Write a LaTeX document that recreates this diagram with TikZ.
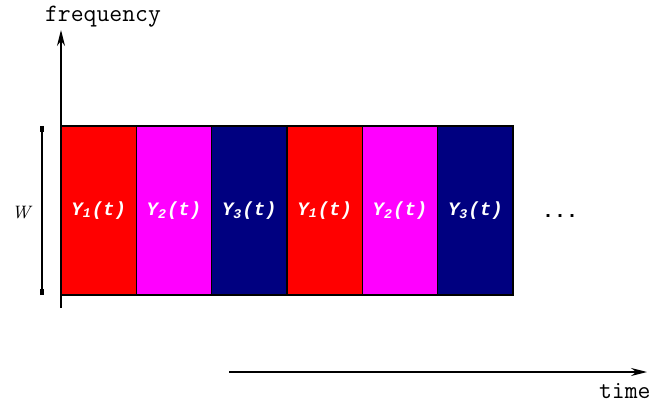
\documentclass[tikz,border=0pt]{standalone}
\usepackage{fontspec}
\newfontfamily\etiketfont{Liberation Mono}
\usepackage{tikz}
\usetikzlibrary{arrows.meta,positioning}
\definecolor{kirmizi}{HTML}{FF0000}
\definecolor{pembe}{HTML}{FF00FF}
\definecolor{lacivert}{HTML}{000080}
\tikzset{
  dilim/.style={draw=black,line width=0.6pt,minimum width=37.67pt,minimum height=84.5pt,
    inner sep=0pt,outer sep=0pt,text=white,font=\etiketfont\bfseries\itshape\fontsize{9.5}{10}\selectfont},
  eksen/.style={line width=0.7pt,-{Stealth[length=8pt,width=4pt]}},
  yazi/.style={font=\ttfamily\fontsize{12.5}{13}\selectfont}
}
\begin{document}
\begin{tikzpicture}[x=0.5pt,y=-0.5pt]
\useasboundingbox (0,0) rectangle (659,401);
\node[dilim,fill=kirmizi,anchor=north west] (s1) at (61,126) {Y\textsubscript{1}(t)};
\node[dilim,fill=pembe,right=0pt of s1] (s2) {Y\textsubscript{2}(t)};
\node[dilim,fill=lacivert,right=0pt of s2] (s3) {Y\textsubscript{3}(t)};
\node[dilim,fill=kirmizi,right=0pt of s3] (s4) {Y\textsubscript{1}(t)};
\node[dilim,fill=pembe,right=0pt of s4] (s5) {Y\textsubscript{2}(t)};
\node[dilim,fill=lacivert,right=0pt of s5] (s6) {Y\textsubscript{3}(t)};
\coordinate (f0) at (61,308);
\coordinate (f1) at (61,30);
\draw[eksen] (f0)--(f1);
\node[yazi] (frek) at (103,17) {frequency};
\coordinate (t0) at (229,372);
\coordinate (t1) at (647,372);
\draw[eksen] (t0)--(t1);
\node[yazi,anchor=east,inner sep=1pt] (zaman) at (653,391) {time};
\coordinate (w0) at (42,126);
\coordinate (w1) at (42,295);
\draw[line width=0.6pt] (w0)--(w1);
\draw[line width=1.6pt] (w0)--++(0,6) (w1)--++(0,-6);
\node[font=\itshape\fontsize{9}{10}\selectfont] (gen) at (21,213) {W};
\node[font=\etiketfont\bfseries\fontsize{10}{10}\selectfont] (nokta) at (560,216) {...};
\end{tikzpicture}
\end{document}
